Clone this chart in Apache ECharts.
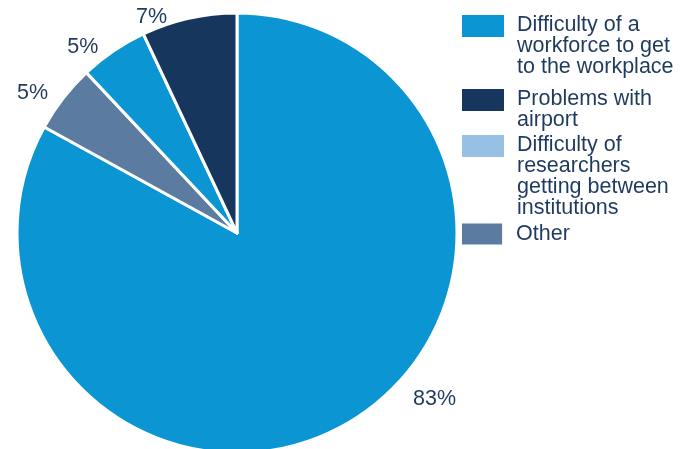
<!DOCTYPE html>
<html>
<head>
<meta charset="utf-8">
<script src="https://cdn.jsdelivr.net/npm/echarts@6/dist/echarts.min.js"></script>
<style>
  html, body { margin: 0; padding: 0; background: #ffffff; }
  #chart { width: 693px; height: 449px; }
</style>
</head>
<body>
<div id="chart"></div>
<script>
// Slices in clockwise order from twelve o'clock
const categories = [
  'Difficulty of a workforce to get to the workplace',
  'Other',
  'Difficulty of researchers getting between institutions',
  'Problems with airport'
];
const values = [83, 5, 5, 7];

// Legend order and wrapped legend text
const legendOrder = [
  'Difficulty of a workforce to get to the workplace',
  'Problems with airport',
  'Difficulty of researchers getting between institutions',
  'Other'
];
const legendText = [
  'Difficulty of a\nworkforce to get\nto the workplace',
  'Problems with\nairport',
  'Difficulty of\nresearchers\ngetting between\ninstitutions',
  'Other'
];

// Styling
const sliceColors = ['#0b95d3', '#5b7ca0', '#0b95d3', '#17365d'];
const legendSwatch = {
  'Difficulty of a workforce to get to the workplace': '#0b95d3',
  'Problems with airport': '#17365d',
  'Difficulty of researchers getting between institutions': '#97c0e5',
  'Other': '#5b7ca0'
};
const legendTops = [14, 88, 134, 223];
const labelShift = [[64, -23], [-15, -5], [-15, -4], [-22, -1]];
const textColor = '#1e3a5f';
const fontFamily = '"Liberation Sans", Arial, Helvetica, sans-serif';
const lineH = 21;

// Swatch sits beside the first line of a wrapped legend entry: the icon box
// spans the whole text block, only its top 22px are filled.
function swatchIcon(lines) {
  const h = lines * lineH;
  return 'path://M0,1H42V23H0Z M0,' + (h - 0.01) + 'H0.01V' + h + 'H0Z';
}

const chart = echarts.init(document.getElementById('chart'), null, { renderer: 'canvas' });

const legends = legendOrder.map((name, i) => {
  const lines = legendText[i].split('\n').length;
  return {
    orient: 'vertical',
    left: 462,
    top: legendTops[i],
    padding: 0,
    itemWidth: 42,
    itemHeight: lines * lineH,
    icon: swatchIcon(lines),
    selectedMode: false,
    itemStyle: { borderWidth: 0 },
    data: [{ name: name, itemStyle: { color: legendSwatch[name], borderWidth: 0 } }],
    formatter: () => legendText[i],
    textStyle: {
      fontFamily: fontFamily,
      fontSize: 21.5,
      lineHeight: lineH,
      color: textColor,
      padding: [0, 0, 0, 8]
    }
  };
});

chart.setOption({
  animation: false,
  backgroundColor: '#ffffff',
  legend: legends,
  series: [{
    type: 'pie',
    center: [237, 233],
    radius: 220,
    startAngle: 90,
    clockwise: true,
    avoidLabelOverlap: false,
    data: categories.map((name, i) => ({
      name: name,
      value: values[i],
      itemStyle: { color: sliceColors[i] }
    })),
    itemStyle: { borderColor: '#ffffff', borderWidth: 3 },
    label: {
      show: true,
      position: 'outside',
      formatter: '{c}%',
      fontFamily: fontFamily,
      fontSize: 21.5,
      color: textColor,
      distanceToLabelLine: 0
    },
    labelLine: { show: false, length: 0, length2: 0 },
    labelLayout: (p) => ({ dx: labelShift[p.dataIndex][0], dy: labelShift[p.dataIndex][1] }),
    emphasis: { disabled: true }
  }]
});
</script>
</body>
</html>
